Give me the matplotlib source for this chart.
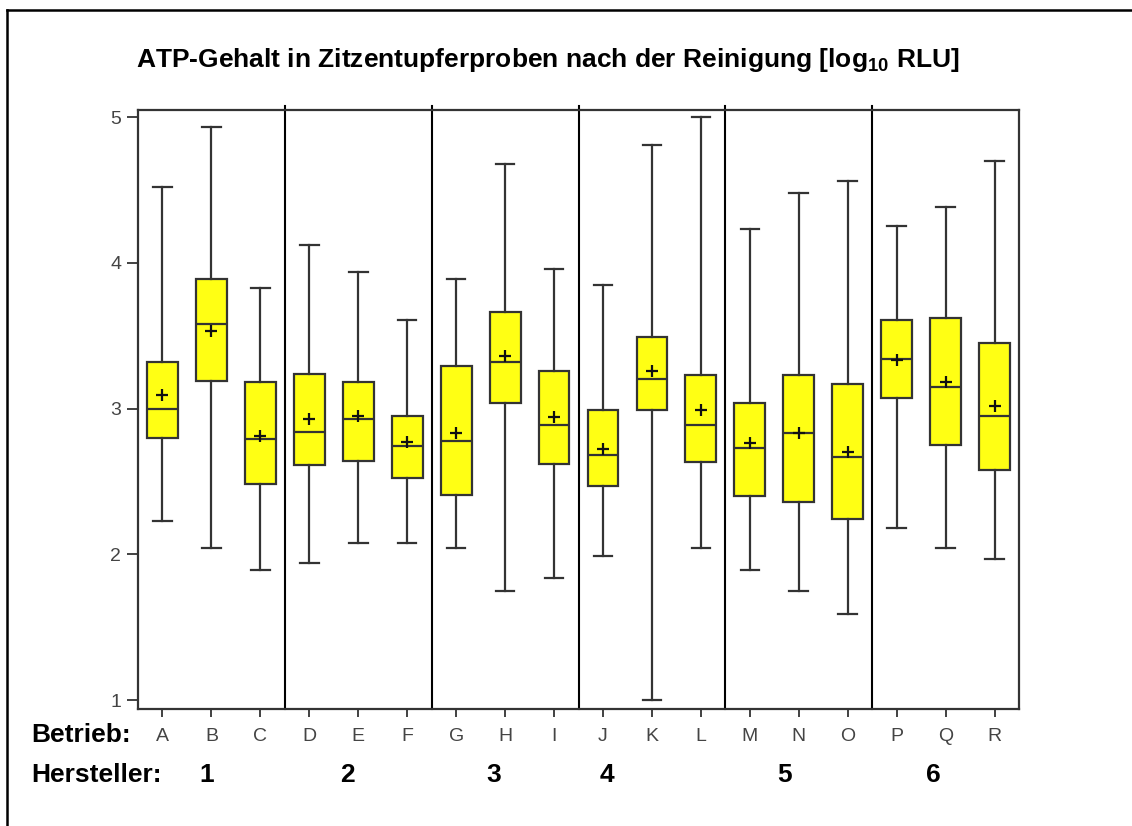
import matplotlib
matplotlib.use("Agg")
import matplotlib.pyplot as plt
from matplotlib.lines import Line2D

plt.rcParams['font.family'] = ['Liberation Sans', 'DejaVu Sans']
plt.rcParams['mathtext.fontset'] = 'custom'
plt.rcParams['mathtext.bf'] = 'Liberation Sans:bold'
plt.rcParams['mathtext.rm'] = 'Liberation Sans'

# Betriebe und Werte (log10 RLU)
betriebe = list("ABCDEFGHIJKLMNOPQR")
w_low = [2.23, 2.04, 1.89, 1.94, 2.08, 2.08, 2.04, 1.75, 1.84, 1.99, 1.00, 2.04, 1.89, 1.75, 1.59, 2.18, 2.04, 1.97]
q1 = [2.80, 3.19, 2.48, 2.61, 2.64, 2.52, 2.41, 3.04, 2.62, 2.47, 2.99, 2.63, 2.40, 2.36, 2.24, 3.07, 2.75, 2.58]
median = [3.00, 3.58, 2.79, 2.84, 2.93, 2.74, 2.78, 3.32, 2.89, 2.68, 3.20, 2.89, 2.73, 2.83, 2.67, 3.34, 3.15, 2.95]
q3 = [3.32, 3.89, 3.18, 3.24, 3.18, 2.95, 3.29, 3.66, 3.26, 2.99, 3.49, 3.23, 3.04, 3.23, 3.17, 3.61, 3.62, 3.45]
w_high = [4.52, 4.93, 3.83, 4.12, 3.94, 3.61, 3.89, 4.68, 3.96, 3.85, 4.81, 5.00, 4.23, 4.48, 4.56, 4.25, 4.38, 4.70]
mittel = [3.09, 3.53, 2.81, 2.93, 2.95, 2.77, 2.83, 3.36, 2.94, 2.72, 3.26, 2.99, 2.76, 2.83, 2.70, 3.33, 3.18, 3.02]

hersteller = ["1", "2", "3", "4", "5", "6"]
hersteller_x = [1.90, 4.78, 7.77, 10.08, 13.70, 16.75]
gruppen_grenzen = [3.5, 6.5, 9.5, 12.5, 15.5]

stats = []
for i, b in enumerate(betriebe):
    stats.append({'label': b, 'whislo': w_low[i], 'q1': q1[i], 'med': median[i],
                  'q3': q3[i], 'whishi': w_high[i], 'mean': mittel[i], 'fliers': []})

fig = plt.figure(figsize=(11.32, 8.26), dpi=100)
ax = fig.add_axes([0.1219, 0.1416, 0.7783, 0.7252])

lc = '#333333'
pos = list(range(1, len(betriebe) + 1))
ax.bxp(stats, positions=pos, widths=0.63, patch_artist=True, showmeans=True,
       boxprops=dict(facecolor='#ffff14', edgecolor=lc, linewidth=1.6),
       medianprops=dict(color=lc, linewidth=1.6),
       whiskerprops=dict(color=lc, linewidth=1.6),
       capprops=dict(color=lc, linewidth=1.6),
       capwidths=0.38,
       meanprops=dict(marker='+', markeredgecolor='#111111', markersize=8, markeredgewidth=1.6))

for g in gruppen_grenzen:
    ax.axvline(g, ymin=0, ymax=1.006, color='black', linewidth=1.5, clip_on=False)

ax.set_xlim(0.5, 18.5)
ax.set_ylim(0.938, 5.048)
ax.set_yticks([1, 2, 3, 4, 5])
ax.set_xticks(pos)
ax.set_xticklabels(betriebe)
ax.tick_params(axis='both', colors=lc, labelcolor='#444444', labelsize=14, width=1.3)
ax.tick_params(axis='x', length=6, pad=8)
ax.tick_params(axis='y', length=8, pad=4)
for s in ax.spines.values():
    s.set_color(lc)
    s.set_linewidth(1.6)

fig.text(548 / 1132, 1 - 60 / 826,
         r'ATP-Gehalt in Zitzentupferproben nach der Reinigung [$\mathbf{log}_{\mathbf{10}}$ RLU]',
         fontsize=19, fontweight='bold', ha='center', va='center')

fig.text(31 / 1132, 1 - 735 / 826, 'Betrieb:', fontsize=19, fontweight='bold', va='center', ha='left')
fig.text(31 / 1132, 1 - 775 / 826, 'Hersteller:', fontsize=19, fontweight='bold', va='center', ha='left')
for h, hx in zip(hersteller, hersteller_x):
    ax.text(hx, (1 - 775 / 826 - 0.1416) / 0.7252, h, transform=ax.get_xaxis_transform(),
            fontsize=19, fontweight='bold', ha='center', va='center')

# Rahmen oben und links
fig.add_artist(Line2D([7 / 1132, 7 / 1132], [0, 1 - 10 / 826], color='black', linewidth=1.8))
fig.add_artist(Line2D([7 / 1132, 1], [1 - 10 / 826, 1 - 10 / 826], color='black', linewidth=1.8))

fig.savefig('out.png', dpi=100)
